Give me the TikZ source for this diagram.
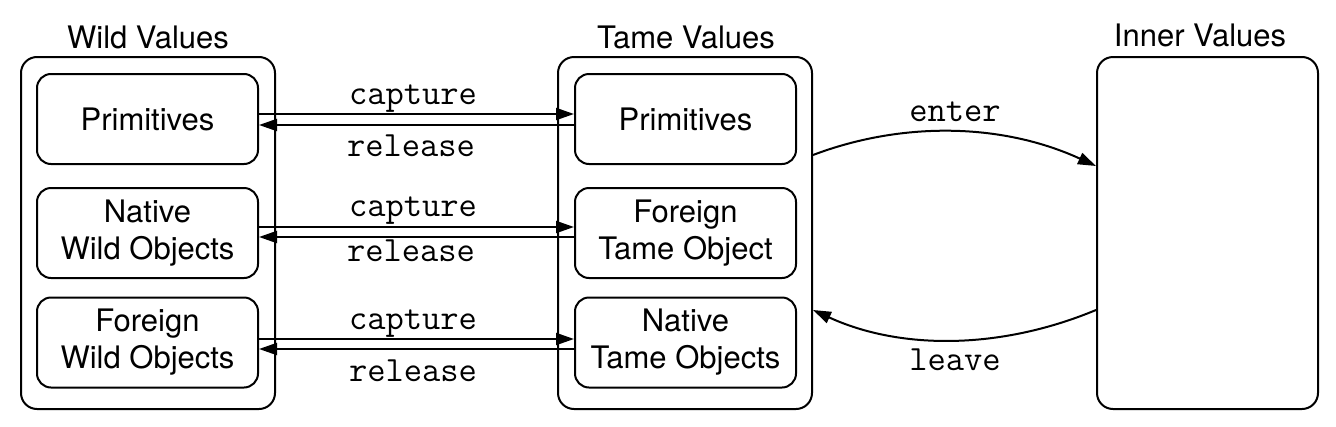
\documentclass[tikz,border=0pt]{standalone}
\usepackage{fontspec}
\setmainfont{TeX Gyre Heros}
\usetikzlibrary{arrows.meta}
\begin{document}
\begin{tikzpicture}[x=1pt,y=-1pt,
 outerbox/.style={draw, line width=2pt, rounded corners=16pt, minimum width=254pt, minimum height=352pt, inner sep=0pt},
 innerbox/.style={draw, line width=2pt, rounded corners=14pt, minimum width=221pt, minimum height=90pt, align=center, font=\fontsize{31}{37}\selectfont, inner sep=0pt},
 titletext/.style={font=\fontsize{31}{36}\selectfont, inner sep=0pt},
 lbl/.style={font=\ttfamily\fontsize{35.5}{36}\selectfont, inner sep=0pt},
 arr/.style={line width=2pt, -{Triangle[length=18pt,width=12pt]}},
]
\useasboundingbox (0,0) rectangle (1336,426);
% outer boxes
\node[outerbox] (wild) at (148,233) {};
\node[outerbox] (tame) at (685,233) {};
\node[outerbox, minimum width=221pt] (innerv) at (1207.5,233) {};
% titles
\node[titletext] (twild) at (148,37) {Wild Values};
\node[titletext] (ttame) at (686,37) {Tame Values};
\node[titletext] (tinner) at (1200,35) {Inner Values};
% inner boxes
\node[innerbox] (wp) at (147.5,119) {Primitives};
\node[innerbox] (wn) at (147.5,233) {Native\\Wild Objects};
\node[innerbox] (wf) at (147.5,342.5) {Foreign\\Wild Objects};
\node[innerbox] (tp) at (685.5,119) {Primitives};
\node[innerbox] (tf) at (685.5,233) {Foreign\\Tame Object};
\node[innerbox] (tn) at (685.5,342.5) {Native\\Tame Objects};
% capture / release arrows
\draw[arr] ([yshift=5pt]wp.east) -- ([yshift=5pt]tp.west);
\draw[arr] ([yshift=-6pt]tp.west) -- ([yshift=-6pt]wp.east);
\draw[arr] ([yshift=6pt]wn.east) -- ([yshift=6pt]tf.west);
\draw[arr] ([yshift=-4pt]tf.west) -- ([yshift=-4pt]wn.east);
\draw[arr] ([yshift=3.5pt]wf.east) -- ([yshift=3.5pt]tn.west);
\draw[arr] ([yshift=-6.5pt]tn.west) -- ([yshift=-6.5pt]wf.east);
\node[lbl] (c1) at (413,99) {capture};
\node[lbl] (r1) at (411,146) {release};
\node[lbl] (c2) at (413,211) {capture};
\node[lbl] (r2) at (411,251) {release};
\node[lbl] (c3) at (413,324) {capture};
\node[lbl] (r3) at (413,371) {release};
% enter / leave
\draw[arr] ([yshift=78pt]tame.east) .. controls (900,122) and (1000,122) .. ([yshift=67pt]innerv.west);
\draw[arr] ([yshift=-77pt]innerv.west) .. controls (1000,350) and (900,350) .. ([yshift=-77pt]tame.east);
\node[lbl] (lenter) at (955,112) {enter};
\node[lbl] (lleave) at (955,360) {leave};
\end{tikzpicture}
\end{document}
